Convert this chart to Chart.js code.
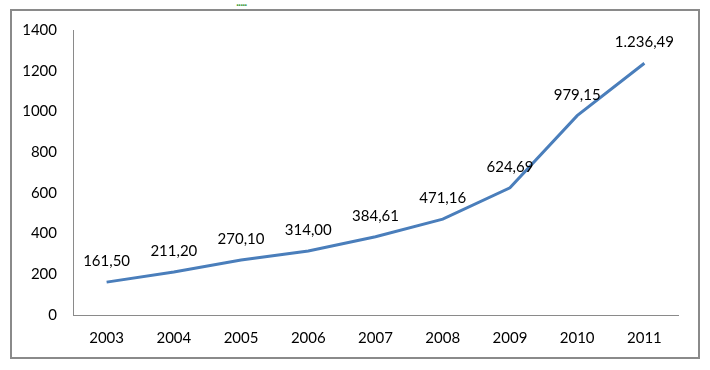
<!DOCTYPE html>
<html lang="en">
<head>
<meta charset="UTF-8">
<title>2003-2011</title>
<script src="https://cdn.jsdelivr.net/npm/chart.js@4.4.1/dist/chart.umd.min.js"></script>
<style>
  body { margin: 0; background: #fff; }
  #box { position: absolute; left: 10px; top: 9px; width: 686px; height: 346px; border: 2px solid #8a8a8a; }
  #myChart { position: absolute; left: 0; top: -6px; }
  #dots { position: absolute; left: 236px; top: -7px; font: 13px Lato, sans-serif; color: #3a9a3a; letter-spacing: -1px; }
</style>
</head>
<body>
<div id="dots">.....</div>
<div id="box"><canvas id="myChart" width="686" height="352"></canvas></div>
<script>
const years = ['2003', '2004', '2005', '2006', '2007', '2008', '2009', '2010', '2011'];
const values = [161.50, 211.20, 270.10, 314.00, 384.61, 471.16, 624.69, 979.15, 1236.49];
const yTicks = [0, 200, 400, 600, 800, 1000, 1200, 1400];

// 1236.49 -> "1.236,49"
function fmt(v) {
  var parts = v.toFixed(2).split('.');
  var intPart = parts[0].replace(/\B(?=(\d{3})+(?!\d))/g, '.');
  return intPart + ',' + parts[1];
}

const pointLabels = {
  id: 'pointLabels',
  afterDatasetsDraw: (chart) => {
    const ctx = chart.ctx;
    const meta = chart.getDatasetMeta(0);
    ctx.save();
    ctx.font = '15px Lato, "Open Sans", sans-serif';
    ctx.fillStyle = '#000';
    ctx.textAlign = 'center';
    ctx.textBaseline = 'middle';
    meta.data.forEach((pt, i) => {
      ctx.fillText(fmt(values[i]), pt.x, pt.y - 21);
    });
    ctx.restore();
  }
};

var ctx = document.getElementById('myChart');
var myChart = new Chart(ctx, {
  type: 'line',
  data: {
    labels: years,
    datasets: [{
      data: values,
      borderColor: '#4a7ebb',
      borderWidth: 3,
      pointRadius: 0,
      tension: 0,
      fill: false
    }]
  },
  options: {
    responsive: false,
    animation: false,
    layout: { padding: { left: 0, top: 13, right: 20, bottom: 0 } },
    plugins: { legend: { display: false }, tooltip: { enabled: false } },
    scales: {
      x: {
        offset: true,
        grid: { display: false, drawTicks: false },
        border: { display: true, color: '#8a8a8a', width: 1 },
        ticks: { color: '#000', padding: 14, maxRotation: 0, font: { family: 'Lato', size: 15 } },
        afterFit: (scale) => { scale.height = 42; }
      },
      y: {
        min: 0,
        max: 1400,
        afterBuildTicks: (scale) => { scale.ticks = yTicks.map(v => ({ value: v })); },
        grid: { display: false, drawTicks: false },
        border: { display: true, color: '#8a8a8a', width: 1 },
        ticks: { color: '#000', padding: 16, font: { family: 'Lato', size: 15 }, callback: (v) => String(v) },
        afterFit: (scale) => { scale.width = 61; }
      }
    }
  },
  plugins: [pointLabels]
});
</script>
</body>
</html>
